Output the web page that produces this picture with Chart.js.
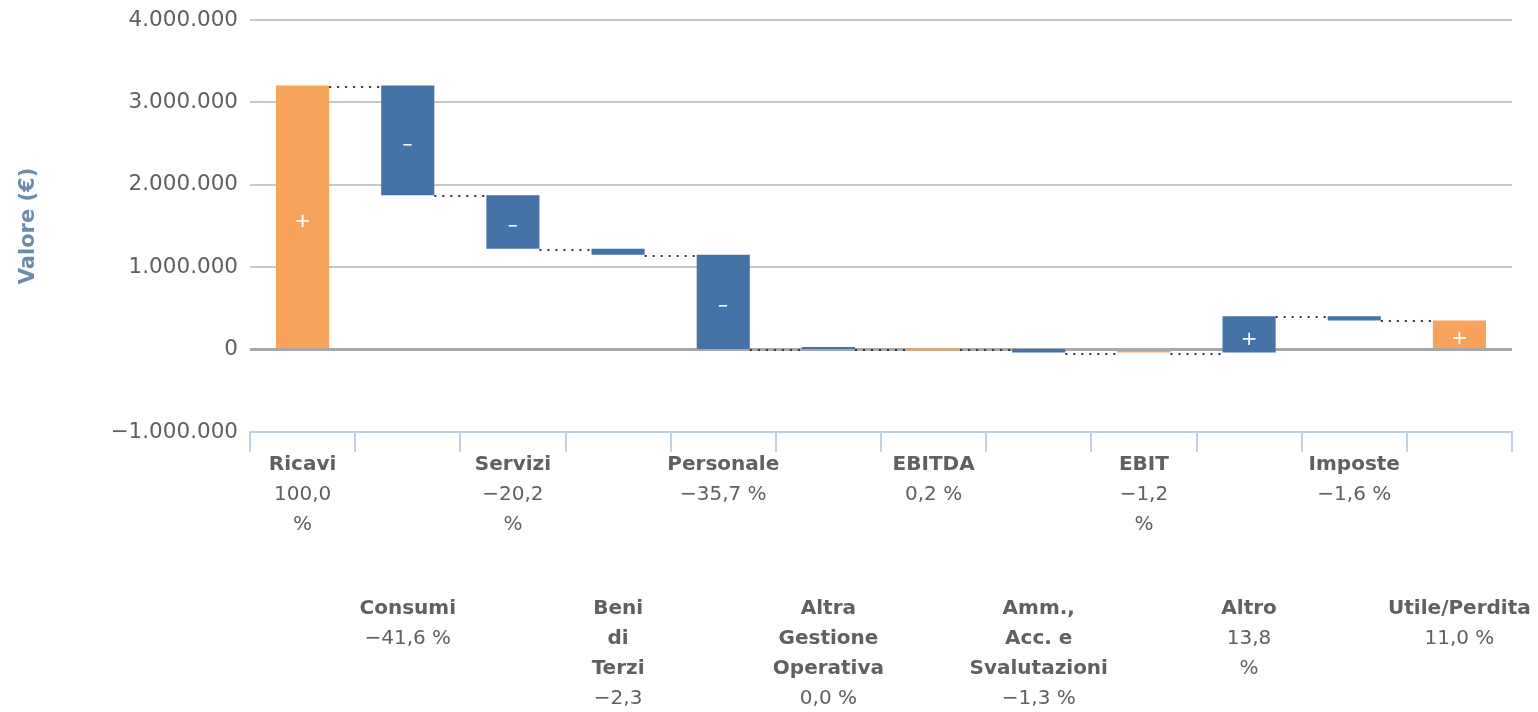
<!DOCTYPE html>
<html>
<head>
<meta charset="utf-8">
<script src="https://cdn.jsdelivr.net/npm/chart.js@4/dist/chart.umd.min.js"></script>
<style>
  html, body { margin: 0; padding: 0; background: #ffffff; }
  #wrap { width: 1538px; height: 712px; position: relative; }
</style>
</head>
<body>
<div id="wrap"><canvas id="c" width="1538" height="712"></canvas></div>
<script>
// ---- Data ----
const categories = ['Ricavi', 'Consumi', 'Servizi', 'Beni di Terzi', 'Personale', 'Altra Gestione Operativa',
  'EBITDA', 'Amm., Acc. e Svalutazioni', 'EBIT', 'Altro', 'Imposte', 'Utile/Perdita'];
// step values (euro); null = intermediate / final sum
const stepValues = [3205000, -1333000, -647000, -74000, -1144000, -500, null, -43000, null, 442000, -51000, null];
const barKinds = ['start', 'delta', 'delta', 'delta', 'delta', 'delta', 'sum', 'delta', 'sum', 'delta', 'delta', 'sum'];
const nameLines = [['Ricavi'], ['Consumi'], ['Servizi'], ['Beni', 'di', 'Terzi'], ['Personale'],
  ['Altra', 'Gestione', 'Operativa'], ['EBITDA'], ['Amm.,', 'Acc. e', 'Svalutazioni'], ['EBIT'], ['Altro'],
  ['Imposte'], ['Utile/Perdita']];
const percentLines = [['100,0', '%'], ['\u221241,6 %'], ['\u221220,2', '%'], ['\u22122,3', '%'], ['\u221235,7 %'],
  ['0,0 %'], ['0,2 %'], ['\u22121,3 %'], ['\u22121,2', '%'], ['13,8', '%'], ['\u22121,6 %'], ['11,0 %']];
const yTicks = [-1000000, 0, 1000000, 2000000, 3000000, 4000000];

// ---- Build floating bars ----
const ORANGE = '#f7a35c', BLUE = '#4572a7';
let run = 0;
const floating = [], levels = [], colors = [], signs = [];
stepValues.forEach((v, i) => {
  if (barKinds[i] === 'sum') {
    floating.push([0, run]);
    signs.push(run >= 0 ? '+' : '\u2212');
  } else {
    const start = run;
    run += v;
    floating.push([start, run]);
    signs.push(v >= 0 ? '+' : '\u2212');
  }
  levels.push(run);
  colors.push(barKinds[i] === 'delta' ? BLUE : ORANGE);
});

function fmt(v) {
  const s = Math.abs(v).toString().replace(/\B(?=(\d{3})+(?!\d))/g, '.');
  return (v < 0 ? '\u2212' : '') + s;
}

const waterfallPlugin = {
  id: 'waterfall',
  afterDatasetsDraw(chart) {
    const ctx = chart.ctx;
    const meta = chart.getDatasetMeta(0);
    const y = chart.scales.y;
    ctx.save();
    // connectors
    ctx.strokeStyle = '#333333';
    ctx.lineWidth = 2;
    ctx.setLineDash([2, 6]);
    for (let i = 0; i < meta.data.length - 1; i++) {
      const a = meta.data[i], b = meta.data[i + 1];
      const py = Math.round(y.getPixelForValue(levels[i])) + 1;
      ctx.beginPath();
      ctx.moveTo(a.x + a.width / 2, py);
      ctx.lineTo(b.x - b.width / 2, py);
      ctx.stroke();
    }
    ctx.setLineDash([]);
    // +/- labels
    ctx.fillStyle = '#ffffff';
    ctx.textAlign = 'center';
    ctx.textBaseline = 'middle';
    meta.data.forEach((el, i) => {
      const h = Math.abs(el.base - el.y);
      if (h < 20) return;
      ctx.font = signs[i] === '+' ? '20px "DejaVu Sans"' : 'bold 13px "DejaVu Sans"';
      ctx.fillText(signs[i], el.x, (el.y + el.base) / 2 + 5);
    });
    ctx.restore();
  },
  afterDraw(chart) {
    const ctx = chart.ctx;
    const x = chart.scales.x;
    const bottom = chart.chartArea.bottom;
    ctx.save();
    ctx.fillStyle = '#606060';
    ctx.textAlign = 'center';
    ctx.textBaseline = 'middle';
    const lh = 30;
    categories.forEach((c, i) => {
      const px = x.getPixelForValue(i);
      let py = bottom + (i % 2 === 0 ? 33 : 177);
      ctx.font = 'bold 20px "DejaVu Sans"';
      nameLines[i].forEach(t => { ctx.fillText(t, px, py); py += lh; });
      ctx.font = '20px "DejaVu Sans"';
      percentLines[i].forEach(t => { ctx.fillText(t, px, py); py += lh; });
    });
    ctx.restore();
  }
};

new Chart(document.getElementById('c'), {
  type: 'bar',
  data: {
    labels: categories,
    datasets: [{
      data: floating,
      backgroundColor: colors,
      borderWidth: 0,
      barPercentage: 0.505,
      categoryPercentage: 1.0,
      minBarLength: 2
    }]
  },
  options: {
    responsive: false,
    animation: false,
    devicePixelRatio: 1,
    layout: { padding: { top: 20, right: 26, bottom: 0, left: 0 } },
    plugins: { legend: { display: false }, tooltip: { enabled: false } },
    scales: {
      x: {
        type: 'category',
        offset: true,
        grid: {
          offset: true,
          drawOnChartArea: false,
          drawTicks: true,
          tickLength: 20,
          color: '#c0d0e0',
          lineWidth: 2
        },
        border: { display: true, color: '#c0d0e0', width: 2 },
        ticks: { display: false },
        afterFit(scale) { scale.height = 280; }
      },
      y: {
        min: -1000000,
        max: 4000000,
        afterBuildTicks(scale) { scale.ticks = yTicks.map(v => ({ value: v })); },
        ticks: {
          callback: v => fmt(v),
          color: '#606060',
          font: { family: 'DejaVu Sans', size: 21.5 },
          padding: 12
        },
        grid: {
          drawTicks: false,
          color: ctx => ctx.tick.value === -1000000 ? 'rgba(0,0,0,0)' : (ctx.tick.value === 0 ? '#a8a8a8' : '#c8c8c8'),
          lineWidth: ctx => ctx.tick.value === 0 ? 3 : 2
        },
        border: { display: false },
        title: {
          display: true,
          text: 'Valore (\u20ac)',
          color: '#6e8caa',
          font: { family: 'DejaVu Sans', size: 21, weight: 'bold' },
          padding: { top: 16, bottom: 0 }
        },
        afterFit(scale) { scale.width = 250; scale.paddingTop = 0; scale.paddingBottom = 0; }
      }
    }
  },
  plugins: [waterfallPlugin]
});
</script>
</body>
</html>
